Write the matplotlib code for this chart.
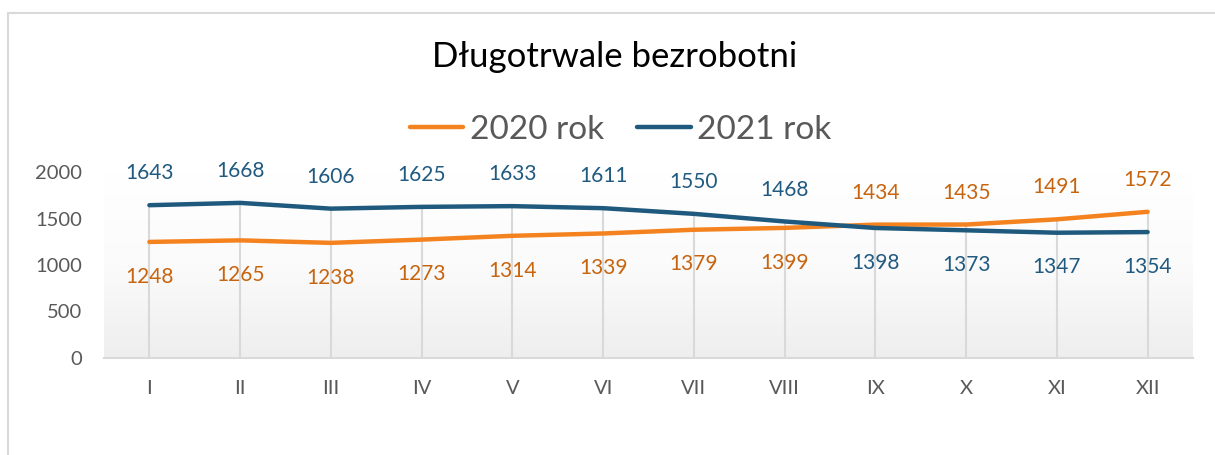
import numpy as np
import matplotlib
matplotlib.use("Agg")
import matplotlib.pyplot as plt
from matplotlib.patches import Rectangle

plt.rcParams["font.family"] = ["Lato", "DejaVu Sans"]

months = ["I", "II", "III", "IV", "V", "VI", "VII", "VIII", "IX", "X", "XI", "XII"]
y2020 = [1248, 1265, 1238, 1273, 1314, 1339, 1379, 1399, 1434, 1435, 1491, 1572]
y2021 = [1643, 1668, 1606, 1625, 1633, 1611, 1550, 1468, 1398, 1373, 1347, 1354]
yticks = [0, 500, 1000, 1500, 2000]

c2020, c2021 = "#F4831F", "#1F5A7E"
l2020, l2021 = "#C8640E", "#215A80"
grey_txt = "#595959"
grid_col = "#D9D9D9"

fig = plt.figure(figsize=(12.15, 4.55), dpi=100)
ax = fig.add_axes([104 / 1215, 1 - 358 / 455, (1193 - 104) / 1215, (358 - 172) / 455])

x = np.arange(len(months))

# gradient plot background
grad = np.linspace(0, 1, 256).reshape(-1, 1)
ax.imshow(grad, extent=(-0.5, 11.5, 0, 2000), aspect="auto", origin="upper",
          cmap=matplotlib.colors.LinearSegmentedColormap.from_list("g", ["#ffffff", "#fbfbfb", "#eeeeee"]),
          zorder=0)

# drop lines
tops = np.maximum(y2020, y2021)
ax.vlines(x, 0, tops, color=grid_col, lw=1.5, zorder=1)

ax.plot(x, y2020, color=c2020, lw=3.2, solid_capstyle="round", label="2020 rok", zorder=3)
ax.plot(x, y2021, color=c2021, lw=3.2, solid_capstyle="round", label="2021 rok", zorder=3)

for i in range(len(months)):
    a, b = y2020[i], y2021[i]
    for v, col, hi in ((a, l2020, a >= b), (b, l2021, b > a)):
        off = 23 if hi else -25
        ax.annotate(str(v), (x[i], v), xytext=(0, off), textcoords="offset points",
                    ha="center", va="center", fontsize=15, color=col, zorder=4)

ax.set_xlim(-0.5, 11.5)
ax.set_ylim(0, 2000)
ax.set_xticks(x)
ax.set_xticklabels(months)
ax.set_yticks(yticks)
ax.tick_params(axis="both", length=0, labelsize=14.5, labelcolor=grey_txt)
ax.tick_params(axis="y", pad=16)
ax.tick_params(axis="x", pad=16)
for s in ("top", "right", "left"):
    ax.spines[s].set_visible(False)
ax.spines["bottom"].set_color(grid_col)
ax.spines["bottom"].set_linewidth(1.5)
ax.set_facecolor("white")

fig.text(0.506, 1 - 57 / 455, "Długotrwale bezrobotni", ha="center", va="center",
         fontsize=25, color="black")

fig.legend(loc="center", bbox_to_anchor=(0.511, 1 - 130 / 455), ncol=2, frameon=False,
           fontsize=24, labelcolor=grey_txt, handlelength=1.6, handletextpad=0.2,
           columnspacing=1.0)

# chart border
fig.patches.append(Rectangle((8 / 1215, -0.1), 1.2, 1 - 13 / 455 + 0.1,
                             transform=fig.transFigure, fill=False,
                             edgecolor=grid_col, lw=1.5))

fig.savefig("out.png", dpi=100)
